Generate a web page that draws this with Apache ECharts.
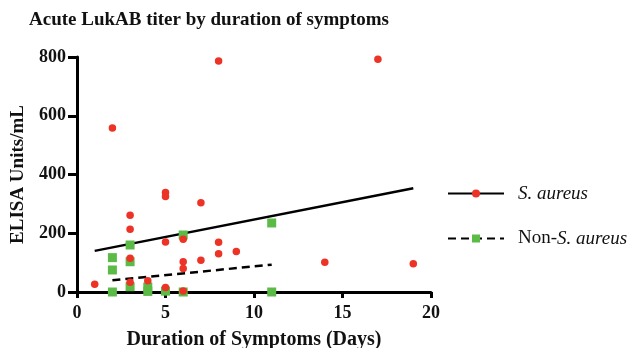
<!DOCTYPE html>
<html>
<head>
<meta charset="utf-8">
<script src="https://cdn.jsdelivr.net/npm/echarts@6/dist/echarts.min.js"></script>
<style>
  html, body { margin: 0; padding: 0; background: #fff; }
  #chart { width: 629px; height: 348px; }
</style>
</head>
<body>
<div id="chart"></div>
<script>
// S. aureus patients: days of symptoms vs ELISA titer
const saDays = [1, 2, 3, 3, 3, 3, 4, 5, 5, 5, 5, 6, 6, 6, 6, 7, 7, 8, 8, 8, 9, 14, 17, 19];
const saTiter = [26, 558, 261, 214, 115, 33, 38, 339, 325, 170, 15, 180, 103, 80, 3, 304, 108, 786, 169, 130, 138, 101, 792, 96];

// Non-S. aureus patients
const nonDays = [2, 2, 2, 3, 3, 3, 4, 4, 5, 6, 6, 11, 11];
const nonTiter = [117, 75, 0, 160, 103, 18, 17, 2, 3, 194, 0, 235, 0];

// fitted lines, end points
const saFitDays = [1, 19];
const saFitTiter = [140, 353];
const nonFitDays = [2, 11];
const nonFitTiter = [40, 93];

const xTicks = [0, 5, 10, 15, 20];
const yTicks = [0, 200, 400, 600, 800];

const zip = (a, b) => a.map((v, i) => [v, b[i]]);
const serif = "'Liberation Serif', 'DejaVu Serif', serif";

const chart = echarts.init(document.getElementById("chart"));

const option = {
  backgroundColor: "#fff",
  animation: false,
  title: {
    text: "Acute LukAB titer by duration of symptoms",
    left: 24,
    top: 6,
    textStyle: { fontFamily: serif, fontWeight: "bold", fontSize: 19, color: "#111" },
  },
  grid: { left: 77, right: 198, top: 57, bottom: 56, outerBoundsMode: "none", containLabel: false },
  legend: {
    orient: "vertical",
    left: 442,
    top: 179,
    itemWidth: 56,
    itemHeight: 10,
    itemGap: 26,
    data: ["S. aureus", "Non-S. aureus"],
    formatter: (name) => (name === "S. aureus" ? "{i|S. aureus}" : "{n|Non-}{i|S. aureus}"),
    textStyle: {
      padding: [0, 0, 0, 9],
      rich: {
        i: { fontFamily: serif, fontStyle: "italic", fontSize: 19, color: "#111" },
        n: { fontFamily: serif, fontSize: 19, color: "#111" },
      },
    },
  },
  xAxis: {
    type: "value",
    min: xTicks[0],
    max: xTicks[xTicks.length - 1],
    interval: 5,
    name: "Duration of Symptoms (Days)",
    nameLocation: "middle",
    nameGap: 38,
    nameTextStyle: { fontFamily: serif, fontWeight: "bold", fontSize: 20, color: "#111" },
    axisLine: { lineStyle: { color: "#000", width: 3 } },
    axisTick: { show: true, length: 6, lineStyle: { color: "#000", width: 3 } },
    axisLabel: { fontFamily: serif, fontWeight: "bold", fontSize: 18, color: "#111", margin: 12 },
    splitLine: { show: false },
  },
  yAxis: {
    type: "value",
    min: yTicks[0],
    max: yTicks[yTicks.length - 1],
    interval: 200,
    name: "ELISA Units/mL",
    nameLocation: "middle",
    nameGap: 49,
    nameTextStyle: { fontFamily: serif, fontWeight: "bold", fontSize: 19, color: "#111" },
    axisLine: { show: true, lineStyle: { color: "#000", width: 3 } },
    axisTick: { show: true, length: 9, lineStyle: { color: "#000", width: 3 } },
    axisLabel: { fontFamily: serif, fontWeight: "bold", fontSize: 18, color: "#111", margin: 11 },
    splitLine: { show: false },
  },
  series: [
    {
      name: "S. aureus",
      type: "line",
      data: zip(saFitDays, saFitTiter),
      symbol: "circle",
      showSymbol: false,
      itemStyle: { color: "#ec3326" },
      lineStyle: { color: "#000", width: 2.5 },
      z: 1,
    },
    {
      name: "Non-S. aureus",
      type: "line",
      data: zip(nonFitDays, nonFitTiter),
      symbol: "rect",
      showSymbol: false,
      itemStyle: { color: "#5bbb46" },
      lineStyle: { color: "#000", width: 2.5, type: [8, 5] },
      z: 1,
    },
    {
      name: "Non-S. aureus points",
      type: "scatter",
      data: zip(nonDays, nonTiter),
      symbol: "rect",
      symbolSize: 9,
      itemStyle: { color: "#5bbb46", opacity: 1 },
      clip: false,
      z: 2,
    },
    {
      name: "S. aureus points",
      type: "scatter",
      data: zip(saDays, saTiter),
      symbol: "circle",
      symbolSize: 7.5,
      itemStyle: { color: "#ec3326", opacity: 1 },
      clip: false,
      z: 3,
    },
  ],
};

chart.setOption(option);
</script>
</body>
</html>
